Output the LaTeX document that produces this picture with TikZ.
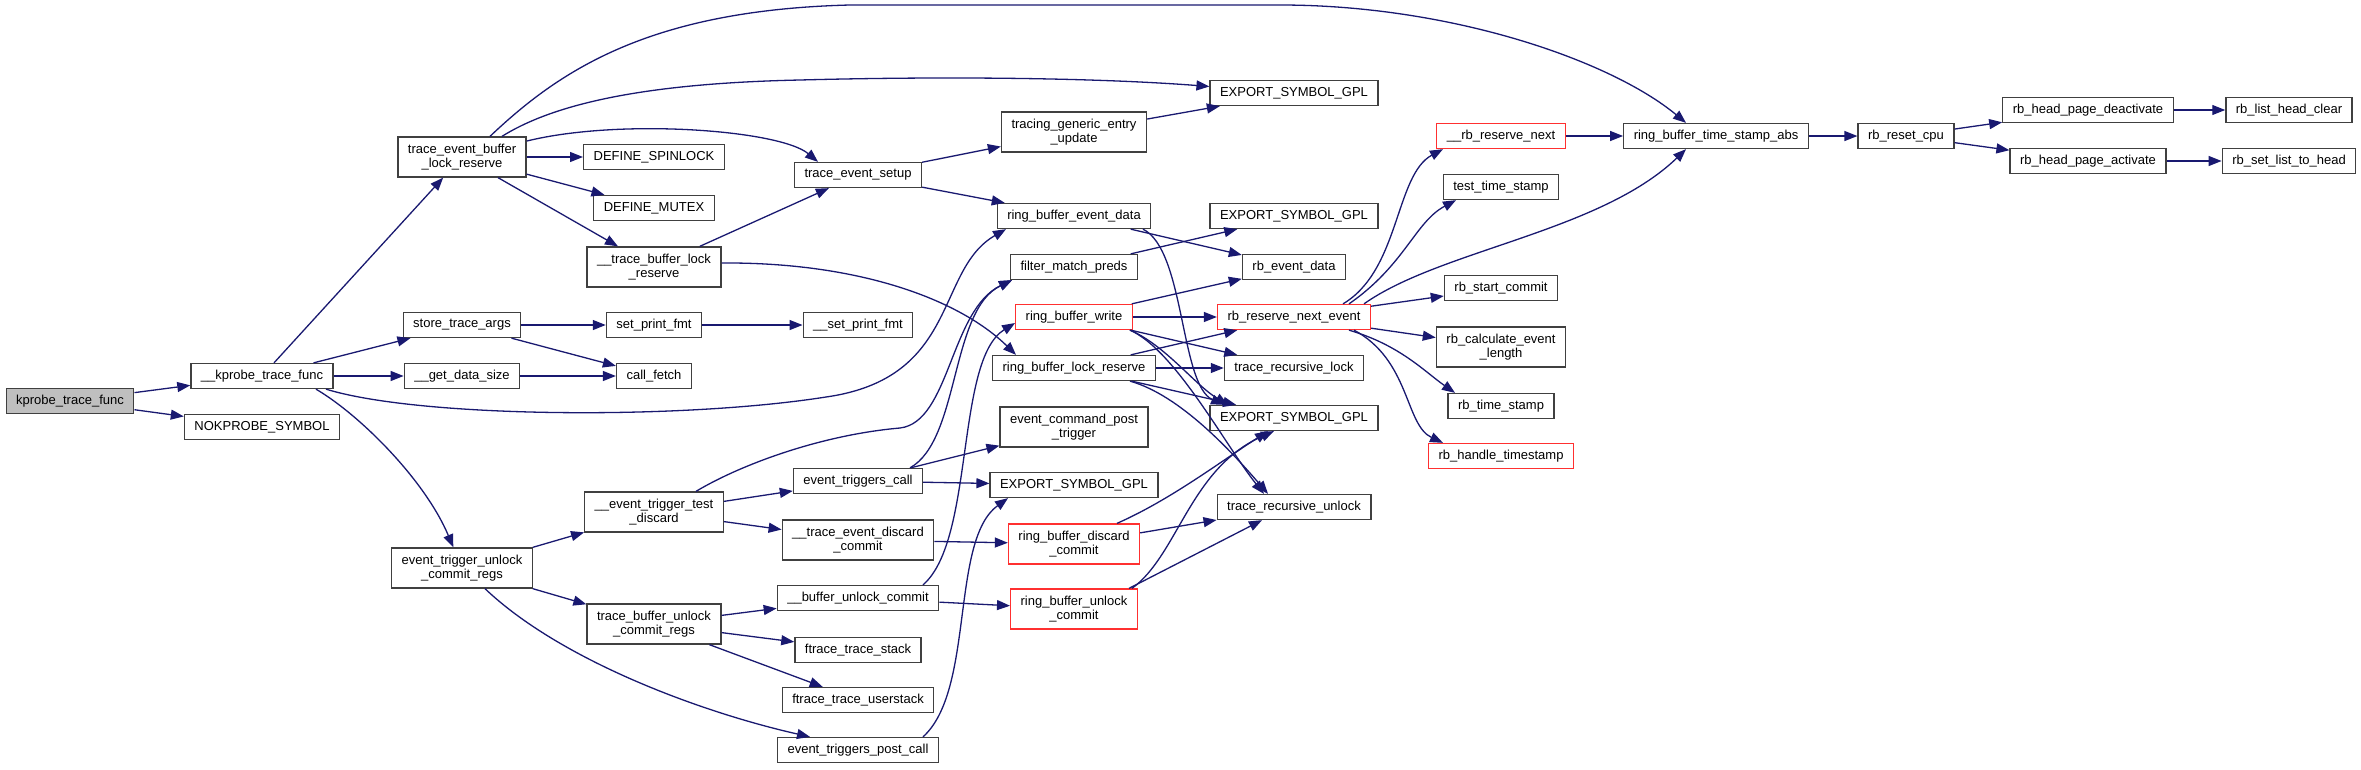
\documentclass[tikz,border=0pt]{standalone}
\usepackage{fontspec}
\setmainfont{Liberation Sans}
\usetikzlibrary{arrows.meta}
\definecolor{cedge}{HTML}{191970}
\definecolor{cborder}{HTML}{404040}
\definecolor{cred}{HTML}{FF3030}
\definecolor{croot}{HTML}{BFBFBF}
\tikzset{
  fnbox/.style={draw=cborder, line width=1.3pt, fill=white, rectangle,
                minimum height=25pt, inner xsep=10pt, inner ysep=6pt,
                font=\fontsize{13}{14.5}\selectfont, align=center},
  dblbox/.style={fnbox, minimum height=40pt},
  redbox/.style={fnbox, draw=cred},
  rootbox/.style={fnbox, fill=croot},
  callarr/.style={-{Triangle[length=13pt,width=10pt]}, cedge, line width=1.3pt},
}

\begin{document}
\begin{tikzpicture}[x=1pt, y=-1pt]
  \useasboundingbox (0,0) rectangle (2361,769);

  %% ── Column 0 / 1 ──
  \node[rootbox] (root) at (70,401) {kprobe\_trace\_func};
  \node[fnbox] (kptf) at (262,376) {\_\_kprobe\_trace\_func};
  \node[fnbox] (nokp) at (262,427) {NOKPROBE\_SYMBOL};

  %% ── Column 2 ──
  \node[dblbox] (teblr) at (462,157) {trace\_event\_buffer\\\_lock\_reserve};
  \node[fnbox] (stargs) at (462,325) {store\_trace\_args};
  \node[fnbox] (gdsize) at (462,376) {\_\_get\_data\_size};
  \node[dblbox] (etucr) at (462,568) {event\_trigger\_unlock\\\_commit\_regs};

  %% ── Column 3 ──
  \node[fnbox] (dspin) at (654,157) {DEFINE\_SPINLOCK};
  \node[fnbox] (dmutex) at (654,208) {DEFINE\_MUTEX};
  \node[dblbox] (tblr) at (654,267) {\_\_trace\_buffer\_lock\\\_reserve};
  \node[fnbox] (spfmt) at (654,325) {set\_print\_fmt};
  \node[fnbox] (cfetch) at (654,376) {call\_fetch};
  \node[dblbox] (ettd) at (654,512) {\_\_event\_trigger\_test\\\_discard};
  \node[dblbox] (tbucr) at (654,624) {trace\_buffer\_unlock\\\_commit\_regs};

  %% ── Column 4 ──
  \node[fnbox] (tesetup) at (858,175) {trace\_event\_setup};
  \node[fnbox] (sspfmt) at (858,325) {\_\_set\_print\_fmt};
  \node[fnbox] (etcall) at (858,481) {event\_triggers\_call};
  \node[dblbox] (tedc) at (858,540) {\_\_trace\_event\_discard\\\_commit};
  \node[fnbox] (buc) at (858,598) {\_\_buffer\_unlock\_commit};
  \node[fnbox] (ftstack) at (858,650) {ftrace\_trace\_stack};
  \node[fnbox] (ftustack) at (858,700) {ftrace\_trace\_userstack};
  \node[fnbox] (etpcall) at (858,750) {event\_triggers\_post\_call};

  %% ── Column 5 ──
  \node[dblbox] (tgeu) at (1074,132) {tracing\_generic\_entry\\\_update};
  \node[fnbox] (rbed) at (1074,216) {ring\_buffer\_event\_data};
  \node[fnbox] (fmp) at (1074,267) {filter\_match\_preds};
  \node[redbox] (rbw) at (1074,317) {ring\_buffer\_write};
  \node[fnbox] (rblr) at (1074,368) {ring\_buffer\_lock\_reserve};
  \node[dblbox] (ecpt) at (1074,427) {event\_command\_post\\\_trigger};
  \node[fnbox] (exp3) at (1074,485) {EXPORT\_SYMBOL\_GPL};
  \node[redbox, minimum height=40pt] (rbdc) at (1074,544) {ring\_buffer\_discard\\\_commit};
  \node[redbox, minimum height=40pt] (rbuc) at (1074,609) {ring\_buffer\_unlock\\\_commit};

  %% ── Column 6 ──
  \node[fnbox] (exp1) at (1294,93) {EXPORT\_SYMBOL\_GPL};
  \node[fnbox] (exp2) at (1294,216) {EXPORT\_SYMBOL\_GPL};
  \node[fnbox] (rbevd) at (1294,267) {rb\_event\_data};
  \node[redbox] (rbrne) at (1294,317) {rb\_reserve\_next\_event};
  \node[fnbox] (trlock) at (1294,368) {trace\_recursive\_lock};
  \node[fnbox] (exp4) at (1294,418) {EXPORT\_SYMBOL\_GPL};
  \node[fnbox] (trunlock) at (1294,507) {trace\_recursive\_unlock};

  %% ── Column 7 ──
  \node[redbox] (rbrn) at (1501,136) {\_\_rb\_reserve\_next};
  \node[fnbox] (tts) at (1501,187) {test\_time\_stamp};
  \node[fnbox] (rbsc) at (1501,288) {rb\_start\_commit};
  \node[dblbox] (rbcel) at (1501,347) {rb\_calculate\_event\\\_length};
  \node[fnbox] (rbts) at (1501,406) {rb\_time\_stamp};
  \node[redbox] (rbht) at (1501,456) {rb\_handle\_timestamp};

  %% ── Columns 8 to 11 ──
  \node[fnbox] (rbtsa) at (1716,136) {ring\_buffer\_time\_stamp\_abs};
  \node[fnbox] (rbrc) at (1906,136) {rb\_reset\_cpu};
  \node[fnbox] (rbhpd) at (2088,110) {rb\_head\_page\_deactivate};
  \node[fnbox] (rbhpa) at (2088,161) {rb\_head\_page\_activate};
  \node[fnbox] (rblhc) at (2289,110) {rb\_list\_head\_clear};
  \node[fnbox] (rbsl) at (2289,161) {rb\_set\_list\_to\_head};

  %% ── Straight calls ──
  \draw[callarr] (root) -- (kptf);
  \draw[callarr] (root) -- (nokp);
  \draw[callarr] (kptf) -- (teblr);
  \draw[callarr] (kptf) -- (stargs);
  \draw[callarr] (kptf) -- (gdsize);
  \draw[callarr] (teblr) -- (dspin);
  \draw[callarr] (teblr) -- (dmutex);
  \draw[callarr] (teblr) -- (tblr);
  \draw[callarr] (tblr) -- (tesetup);
  \draw[callarr] (stargs) -- (spfmt);
  \draw[callarr] (stargs) -- (cfetch);
  \draw[callarr] (gdsize) -- (cfetch);
  \draw[callarr] (spfmt) -- (sspfmt);
  \draw[callarr] (etucr) -- (ettd);
  \draw[callarr] (etucr) -- (tbucr);
  \draw[callarr] (ettd) -- (etcall);
  \draw[callarr] (ettd) -- (tedc);
  \draw[callarr] (tbucr) -- (buc);
  \draw[callarr] (tbucr) -- (ftstack);
  \draw[callarr] (tbucr) -- (ftustack);
  \draw[callarr] (tesetup) -- (tgeu);
  \draw[callarr] (tesetup) -- (rbed);
  \draw[callarr] (tgeu) -- (exp1);
  \draw[callarr] (rbed) -- (rbevd);
  \draw[callarr] (fmp) -- (exp2);
  \draw[callarr] (rbw) -- (rbevd);
  \draw[callarr] (rbw) -- (rbrne);
  \draw[callarr] (rbw) -- (trlock);
  \draw[callarr] (rblr) -- (rbrne);
  \draw[callarr] (rblr) -- (trlock);
  \draw[callarr] (rblr) -- (exp4);
  \draw[callarr] (etcall) -- (ecpt);
  \draw[callarr] (etcall) -- (exp3);
  \draw[callarr] (tedc) -- (rbdc);
  \draw[callarr] (buc) -- (rbuc);
  \draw[callarr] (rbdc) -- (trunlock);
  \draw[callarr] ([xshift=55pt]rbuc.north) -- ([xshift=-32pt]trunlock.south);
  \draw[callarr] (rbrne) -- (rbsc);
  \draw[callarr] (rbrne) -- (rbcel);
  \draw[callarr] (rbrn) -- (rbtsa);
  \draw[callarr] (rbtsa) -- (rbrc);
  \draw[callarr] (rbrc) -- (rbhpd);
  \draw[callarr] (rbrc) -- (rbhpa);
  \draw[callarr] (rbhpd) -- (rblhc);
  \draw[callarr] (rbhpa) -- (rbsl);

  %% ── Curved calls ──
  \draw[callarr] ([xshift=28pt]teblr.north) .. controls (560,70) and (650,10) .. (850,5)
    -- (1280,5) .. controls (1450,5) and (1610,60) .. ([xshift=-30pt]rbtsa.north);
  \draw[callarr] ([xshift=40pt]teblr.north) .. controls (560,100) and (660,83) .. (800,80)
    .. controls (950,76) and (1100,78) .. (exp1);
  \draw[callarr] (teblr) .. controls (620,118) and (780,130) .. ([xshift=-40pt]tesetup.north);
  \draw[callarr] ([yshift=4pt]tblr.east) .. controls (860,262) and (960,300) .. ([xshift=-58pt]rblr.north);
  \draw[callarr] ([xshift=54pt]kptf.south) .. controls (360,415) and (425,480) .. (etucr);
  \draw[callarr] ([xshift=64pt]kptf.south) .. controls (420,418) and (680,420) .. (826,397)
    .. controls (960,378) and (935,270) .. ([xshift=-68pt]rbed.south);
  \draw[callarr] ([xshift=23pt]etucr.south) .. controls (560,660) and (700,712) .. ([xshift=-48pt]etpcall.north);
  \draw[callarr] ([xshift=42pt]ettd.north) .. controls (740,465) and (820,435) .. (900,428)
    .. controls (950,422) and (950,310) .. ([xshift=-62pt]fmp.south);
  \draw[callarr] ([xshift=52pt]etcall.north) .. controls (960,440) and (950,310) .. ([xshift=-62pt]fmp.south);
  \draw[callarr] ([xshift=65pt]buc.north) .. controls (975,540) and (955,360) .. ([yshift=-6pt]rbw.west);
  \draw[callarr] ([xshift=65pt]etpcall.north) .. controls (975,690) and (950,540) .. ([xshift=-66pt]exp3.south);
  \draw[callarr] ([xshift=69pt]rbed.south) .. controls (1185,250) and (1180,385) .. ([xshift=-70pt]exp4.north);
  \draw[callarr] ([xshift=56pt]rbw.south) .. controls (1165,345) and (1195,385) .. ([xshift=-66pt]exp4.north);
  \draw[callarr] ([xshift=56pt]rbw.south) .. controls (1175,350) and (1225,445) .. ([xshift=-30pt]trunlock.north);
  \draw[callarr] ([xshift=56pt]rblr.south) .. controls (1180,395) and (1232,452) .. ([xshift=-26pt]trunlock.north);
  \draw[callarr] ([xshift=43pt]rbdc.north) .. controls (1170,500) and (1220,462) .. ([xshift=-26pt]exp4.south);
  \draw[callarr] ([xshift=58pt]rbuc.north) .. controls (1178,555) and (1190,468) .. ([xshift=-20pt]exp4.south);
  \draw[callarr] ([xshift=49pt]rbrne.north) .. controls (1400,270) and (1395,175) .. ([xshift=-58pt]rbrn.south);
  \draw[callarr] ([xshift=55pt]rbrne.north) .. controls (1405,265) and (1415,222) .. ([xshift=-45pt]tts.south);
  \draw[callarr] ([xshift=70pt]rbrne.north) .. controls (1440,250) and (1600,232) .. ([xshift=-30pt]rbtsa.south);
  \draw[callarr] ([xshift=55pt]rbrne.south) .. controls (1400,345) and (1425,372) .. ([xshift=-46pt]rbts.north);
  \draw[callarr] ([xshift=60pt]rbrne.south) .. controls (1410,360) and (1405,425) .. ([xshift=-58pt]rbht.north);
\end{tikzpicture}
\end{document}
